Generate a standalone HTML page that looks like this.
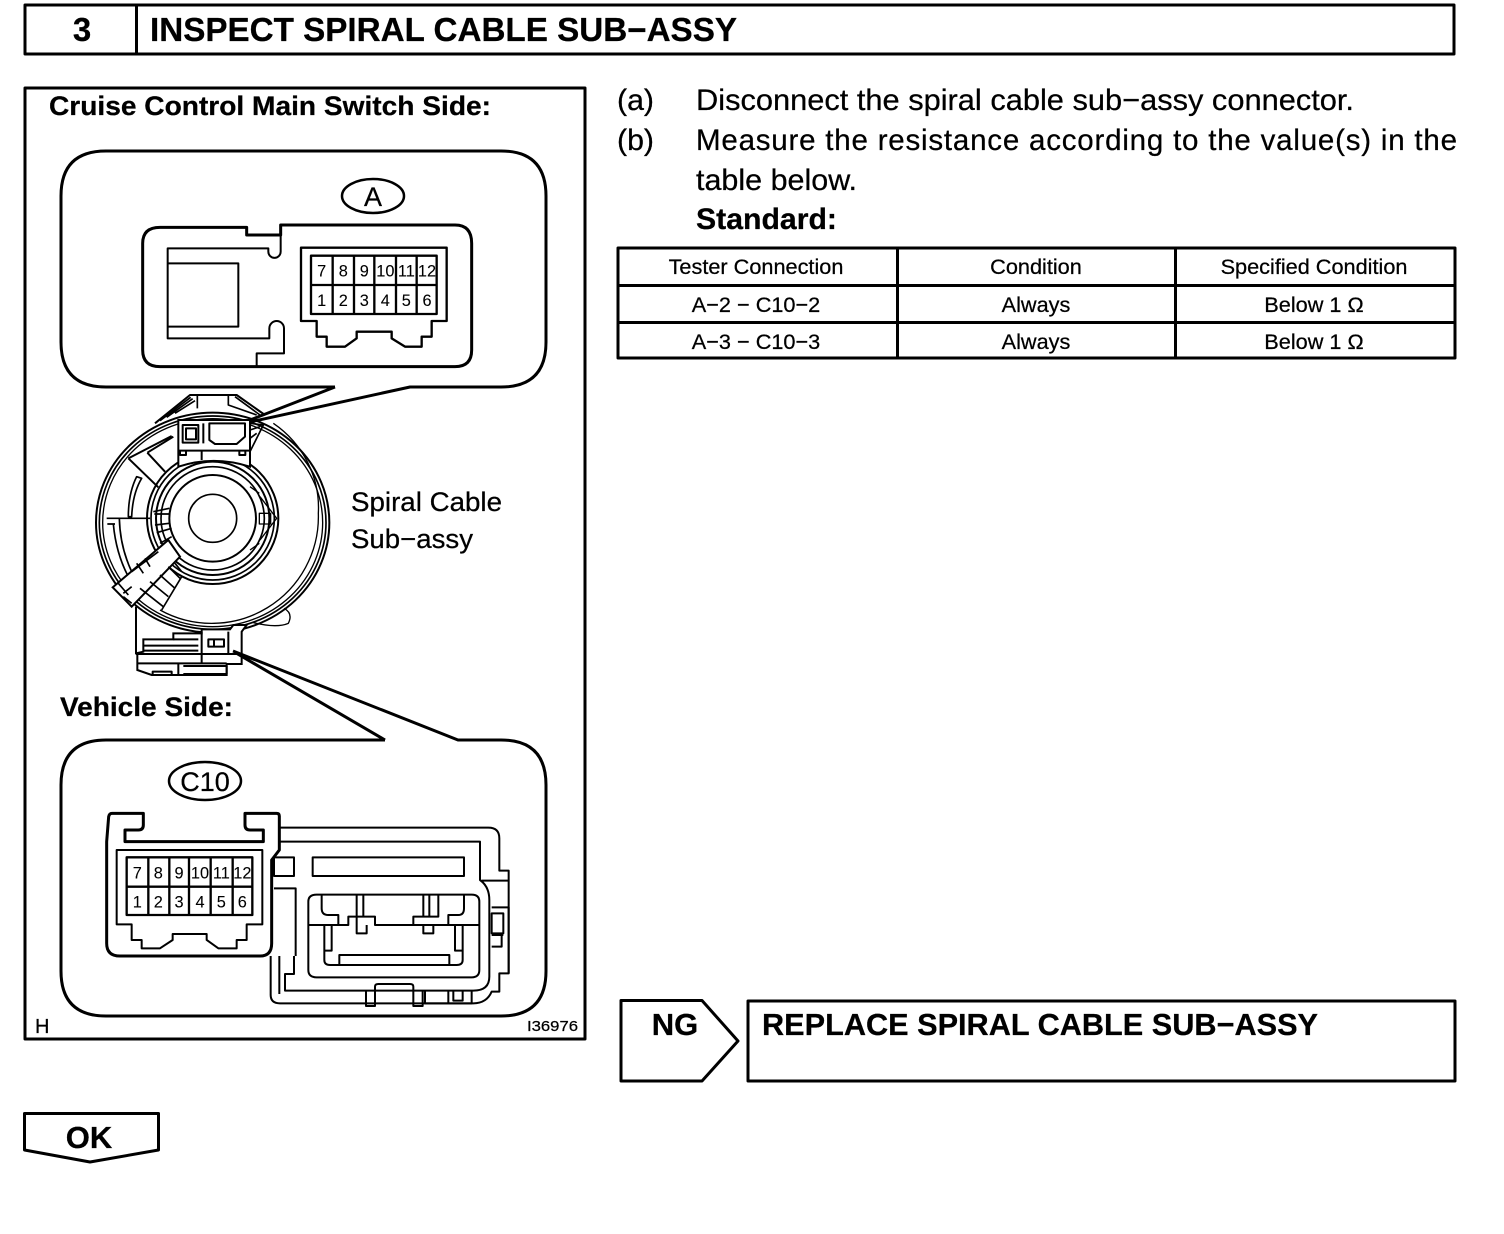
<!DOCTYPE html>
<html><head><meta charset="utf-8"><style>
html,body{margin:0;padding:0;background:#fff}
svg{display:block}
text{font-family:"Liberation Sans",sans-serif;fill:#000;stroke:#000;stroke-width:.25px}
.b{font-weight:bold}
.l{fill:none;stroke:#000;stroke-linejoin:round}
</style></head><body>
<svg width="1504" height="1234" viewBox="0 0 1504 1234" xmlns="http://www.w3.org/2000/svg">
<!-- header -->
<rect class="l" x="25" y="5" width="1429" height="49" stroke-width="3"/>
<path class="l" d="M136.500 5V54" stroke-width="3"/>
<text class="b" x="82" y="41" font-size="33" text-anchor="middle">3</text>
<text class="b" x="150" y="41" font-size="33" textLength="587" lengthAdjust="spacingAndGlyphs">INSPECT SPIRAL CABLE SUB−ASSY</text>
<!-- left panel -->
<rect class="l" x="25" y="88" width="560" height="951" stroke-width="3"/>
<text class="b" x="49" y="115" font-size="27" textLength="442" lengthAdjust="spacingAndGlyphs">Cruise Control Main Switch Side:</text>
<!-- top callout -->
<path class="l" stroke-width="3" d="M335 387H106Q61 387 61 342V196Q61 151 106 151H501Q546 151 546 196V342Q546 387 501 387H410L250 422M335 387L250 420"/>
<ellipse class="l" cx="373" cy="196" rx="31" ry="17" stroke-width="2.500"/>
<text x="373" y="206" font-size="27" text-anchor="middle">A</text>
<!-- connector A -->
<g transform="translate(130,210) scale(.33333)">
<path class="l" stroke-width="9" d="M350 52V75H452V45H975Q1025 45 1025 100V420Q1025 470 975 470H90Q38 470 38 420V100Q38 52 90 52Z"/>
<path class="l" stroke-width="6" d="M113 160V115H415V125A18 18 0 0 0 452 125V75M113 160H325V350H113ZM113 350V385H418V355A22 22 0 0 1 462 355V430H380V470"/>
<path class="l" stroke-width="7" d="M513 113H950V333H905V380H875V410H825L785 385V365H680V385L645 410H590V380H560V333H513Z"/>
<path class="l" stroke-width="7" d="M543 137H920V312H543ZM543 225H920M608 137V312M672 137V312M733 137V312M798 137V312M860 137V312"/>
<g font-size="49" text-anchor="middle">
<text x="575" y="199">7</text><text x="640" y="199">8</text><text x="703" y="199">9</text><text x="766" y="199">10</text><text x="829" y="199">11</text><text x="891" y="199">12</text>
<text x="575" y="288">1</text><text x="640" y="288">2</text><text x="703" y="288">3</text><text x="766" y="288">4</text><text x="829" y="288">5</text><text x="891" y="288">6</text>
</g>
</g>
<!-- spiral cable -->
<g transform="translate(60,380) scale(.33333)">
<path class="l" stroke-width="6" d="M285 130L390 45H530L615 105"/>
<path class="l" stroke-width="5" d="M300 122L392 52M320 112L398 56M345 100L405 62M412 45V85M505 45V75L590 105M525 50L600 105"/>
<ellipse class="l" cx="458" cy="428" rx="350" ry="330" stroke-width="6"/>
<ellipse class="l" cx="458" cy="428" rx="340" ry="320" stroke-width="5"/>
<ellipse class="l" cx="458" cy="428" rx="330" ry="312" stroke-width="4"/>
<path class="l" stroke-width="4" d="M640 130A320 310 0 0 1 775 400A320 320 0 0 1 300 690"/>
<circle class="l" cx="458" cy="415" r="197" stroke-width="6"/>
<circle class="l" cx="458" cy="415" r="185" stroke-width="5"/>
<circle class="l" cx="458" cy="415" r="170" stroke-width="6"/>
<circle class="l" cx="458" cy="415" r="155" stroke-width="5"/>
<circle class="l" cx="458" cy="415" r="130" stroke-width="6"/>
<circle class="l" cx="458" cy="415" r="72" stroke-width="5"/>
<!-- top connector -->
<path d="M355 120H570V260Q460 225 355 260Z" fill="#fff" stroke="#000" stroke-width="6"/>
<path class="l" stroke-width="6" d="M355 212H570M425 212V240M368 135H415V188H368ZM378 145H408V178H378ZM448 130H555V170L530 192H465L448 180ZM360 212H378V225H360ZM538 212H556V225H538ZM430 130V190"/>
<path class="l" stroke-width="5" d="M570 130L610 135L570 215M570 150L600 140M570 175L590 160"/>
<!-- left sectors -->
<path class="l" stroke-width="6" d="M205 235L335 168M262 218L340 170M262 218L315 275M205 235L295 322"/>
<path class="l" stroke-width="5" d="M230 290Q205 340 205 410H215Q218 340 245 295ZM140 415H270M142 432H165M178 415Q180 500 215 575M160 432Q168 520 205 590"/>
<path class="l" stroke-width="5" d="M280 395L328 385M283 402H330M285 435L328 430M290 458L335 445M300 490L335 470"/>
<!-- cable tongue -->
<path d="M158 622L325 480L360 530L215 680Z" fill="#fff" stroke="#000" stroke-width="6"/>
<path class="l" stroke-width="5" d="M175 610L205 645M190 640L215 620M190 650L215 670"/>
<path class="l" stroke-width="5" d="M215 575L295 515M230 550L250 580M255 535L270 560M240 625L310 680M270 605L325 650M300 585L345 625M325 560L360 595M345 550L365 575M305 690L365 590"/>
<!-- right details -->
<path class="l" stroke-width="4" d="M600 350L650 415L600 480M598 400H632V432H598ZM570 320L598 340M570 510L598 490"/>
<path class="l" stroke-width="4" d="M580 728Q650 745 685 730Q700 700 672 685"/>
<!-- bottom connector -->
<path d="M228 680V820H232V870L275 885H500V852H545V755L560 735H520L510 748H425V760H340V778H250V815L228 820" fill="#fff" stroke="#000" stroke-width="6"/>
<path class="l" stroke-width="6" d="M228 822H545M425 755V850M505 755V820M232 850H500M250 797H415M250 812H415M340 778H415M445 778H492V800H445ZM462 778V800M355 850V882M370 858H500V882H370M278 882V875H335V882"/>
</g>
<text x="351" y="511" font-size="27" textLength="151" lengthAdjust="spacingAndGlyphs">Spiral Cable</text>
<text x="351" y="548" font-size="27" textLength="122" lengthAdjust="spacingAndGlyphs">Sub−assy</text>
<text class="b" x="60" y="716" font-size="27" textLength="173" lengthAdjust="spacingAndGlyphs">Vehicle Side:</text>
<!-- bottom callout -->
<path class="l" stroke-width="3" d="M385 740H106Q61 740 61 785V971Q61 1016 106 1016H501Q546 1016 546 971V785Q546 740 501 740H458L233 651M385 740L236 653"/>
<ellipse class="l" cx="205" cy="781" rx="36" ry="19" stroke-width="2.500"/>
<text x="205" y="791" font-size="27" text-anchor="middle">C10</text>
<!-- connector C10 -->
<g transform="translate(90,800) scale(.33333)">
<path class="l" stroke-width="6" d="M568 83H1195Q1228 83 1228 115V212H1256V520H1228V575H1205Q1190 610 1150 610H570Q542 610 542 585V468"/>
<path class="l" stroke-width="6" d="M520 125H1170V240Q1198 260 1198 300V530Q1198 572 1150 572H585V522H612V468M568 468V582M1175 242H1256M1205 322H1256V520M1205 340H1240V400H1205ZM1205 405H1240M1205 440H1235V405"/>
<path class="l" stroke-width="6" d="M668 172H1122V228H668ZM552 172H612V228H552ZM552 265H617V468"/>
<path class="l" stroke-width="6" d="M680 284H1145Q1168 284 1168 305V510Q1168 532 1145 532H680Q655 532 655 510V305Q655 284 680 284ZM655 375H775V350H800V284M775 350H855V375H1165M1165 375H970V350H1045V284M820 284V350M1000 284V350M1018 284V350M800 350V400H830V375M1000 375V400H1030V375M695 284V325Q695 345 715 345H745V375M1122 284V325Q1122 345 1105 345H1075V375"/>
<path class="l" stroke-width="6" d="M703 375V480Q703 495 720 495H1100Q1118 495 1118 480V375M725 375V452H703M1095 375V452H1118M748 495V465H1078V495"/>
<path class="l" stroke-width="6" d="M828 572V618H855V572M855 610V560Q855 552 865 552H960Q970 552 970 560V610M970 572V618H998V572M1005 572V610H1145V572M1075 572V610M1090 572V602H1118V572"/>
<path d="M50 125V430Q50 468 90 468H510Q545 468 545 430V180L568 150V48Q568 40 560 40H465V75Q465 90 480 90H520V125H105V90H145Q160 90 160 75V40H66Q58 40 56 50Z" fill="#fff" stroke="#000" stroke-width="9" stroke-linejoin="round"/>
<path class="l" stroke-width="6" d="M80 150H517V373H470V420H440V445H385L350 420V402H248V420L210 445H155V420H125V373H80Z"/>
<path class="l" stroke-width="7" d="M110 172H487V345H110ZM110 260H487M175 172V345M238 172V345M297 172V345M362 172V345M428 172V345"/>
<g font-size="49" text-anchor="middle">
<text x="142" y="235">7</text><text x="205" y="235">8</text><text x="267" y="235">9</text><text x="330" y="235">10</text><text x="394" y="235">11</text><text x="457" y="235">12</text>
<text x="142" y="323">1</text><text x="205" y="323">2</text><text x="267" y="323">3</text><text x="330" y="323">4</text><text x="394" y="323">5</text><text x="457" y="323">6</text>
</g>
</g>
<text x="35" y="1033" font-size="20">H</text>
<text x="527" y="1031" font-size="15" textLength="51" lengthAdjust="spacingAndGlyphs">I36976</text>
<!-- right text -->
<g font-size="29.500">
<text x="617" y="110" textLength="37" lengthAdjust="spacingAndGlyphs">(a)</text>
<text x="696" y="110" textLength="658" lengthAdjust="spacingAndGlyphs">Disconnect the spiral cable sub−assy connector.</text>
<text x="617" y="150" textLength="37" lengthAdjust="spacingAndGlyphs">(b)</text>
<text x="696" y="150" textLength="761" lengthAdjust="spacing">Measure the resistance according to the value(s) in the</text>
<text x="696" y="190" textLength="161" lengthAdjust="spacingAndGlyphs">table below.</text>
<text class="b" x="696" y="229" textLength="141" lengthAdjust="spacingAndGlyphs">Standard:</text>
</g>
<!-- table -->
<path class="l" stroke-width="3" d="M618 248H1455V358H618ZM618 285.500H1455M618 322.500H1455M897.500 248V358M1175.500 248V358"/>
<g font-size="21.700" text-anchor="middle">
<text x="756" y="274">Tester Connection</text><text x="1036" y="274">Condition</text><text x="1314" y="274">Specified Condition</text>
<text x="756" y="312">A−2 − C10−2</text><text x="1036" y="312">Always</text><text x="1314" y="312">Below 1 Ω</text>
<text x="756" y="349">A−3 − C10−3</text><text x="1036" y="349">Always</text><text x="1314" y="349">Below 1 Ω</text>
</g>
<!-- NG -->
<path class="l" stroke-width="3" d="M621 1000.500H702L738 1041L702 1081H621Z"/>
<text class="b" x="675" y="1035" font-size="31" text-anchor="middle">NG</text>
<rect class="l" x="748" y="1001" width="707" height="80" stroke-width="3"/>
<text class="b" x="762" y="1035" font-size="31" textLength="556" lengthAdjust="spacingAndGlyphs">REPLACE SPIRAL CABLE SUB−ASSY</text>
<!-- OK -->
<path class="l" stroke-width="3" d="M24.500 1113.500H158.500V1150L90 1162L24.500 1150Z"/>
<text class="b" x="89" y="1148" font-size="31" text-anchor="middle">OK</text>
</svg>
</body></html>
